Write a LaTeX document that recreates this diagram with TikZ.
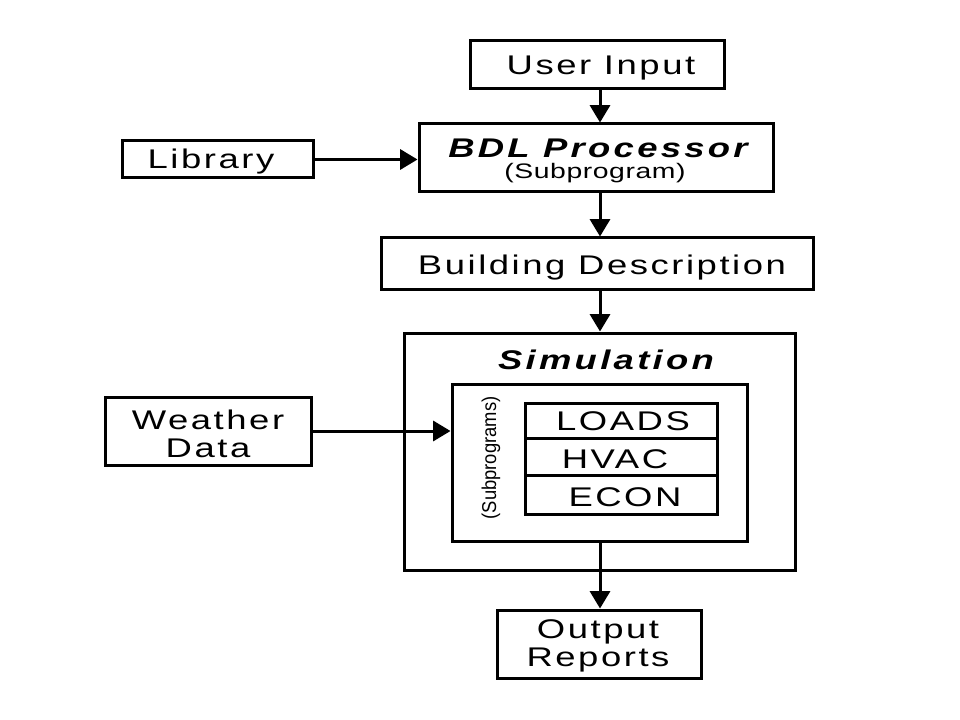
\documentclass[tikz,border=0pt]{standalone}
\usepackage{fontspec}
\setmainfont{Liberation Sans}
\newfontfamily\widefont[LetterSpace=7]{Liberation Sans}
\newfontfamily\widebold[LetterSpace=9]{Liberation Sans Bold Italic}
\newfontfamily\subfont[LetterSpace=2]{Liberation Sans}
\usetikzlibrary{arrows.meta,fit}
\newcommand\wx[1]{\scalebox{1.35}[1]{#1}}
\newcommand\wrot[1]{\scalebox{0.92}[1]{#1}}
\tikzset{
  box/.style={draw, line width=2.25pt, inner sep=0pt},
  lbl/.style={inner sep=0pt, align=center, font=\widefont\fontsize{20.25}{21}\selectfont},
  title/.style={inner sep=0pt, align=center, font=\widebold\fontsize{20.25}{22}\selectfont},
  sub/.style={inner sep=0pt, font=\subfont\fontsize{15.75}{18}\selectfont},
  rot/.style={inner sep=0pt, rotate=90, font=\fontsize{15}{18}\selectfont},
  arr/.style={line width=2.25pt, -{Triangle[length=13pt,width=15pt]}},
  ln/.style={line width=2.25pt}
}
\begin{document}
\begin{tikzpicture}[x=0.75pt,y=-0.75pt]
\useasboundingbox[fill=white] (0,0) rectangle (960,720);
% boxes
\node[box, fit={(470,41) (724,89)}] (ui) {};
\node[box, fit={(419,124) (773,192)}] (bdl) {};
\node[box, fit={(122,141) (313,178)}] (lib) {};
\node[box, fit={(381,238) (813,290)}] (bd) {};
\node[box, fit={(404,333) (795,570)}] (sim) {};
\node[box, fit={(452,384) (747,541)}] (inner) {};
\node[box, fit={(525,403) (717,438)}] (loads) {};
\node[box, fit={(525,438) (717,475)}] (hvac) {};
\node[box, fit={(525,475) (717,514)}] (econ) {};
\node[box, fit={(105,397) (311,465)}] (wd) {};
\node[box, fit={(497,610) (701,678)}] (out) {};
% texts
\node[lbl] (tui) at (601,68) {\wx{User Input}};
\node[title] (tbdl) at (598,148) {\wx{BDL Processor}};
\node[sub] (tsub) at (595,173) {\wx{(Subprogram)}};
\node[lbl] (tlib) at (211,162) {\wx{Library}};
\node[lbl] (tbd) at (602,268) {\wx{Building Description}};
\node[title] (tsim) at (606,360) {\wx{Simulation}};
\node[rot] (tsp) at (491,458) {\wrot{(Subprograms)}};
\node[lbl] (tloads) at (623,421) {\wx{LOADS}};
\node[lbl] (thvac) at (615,459) {\wx{HVAC}};
\node[lbl] (tecon) at (625,497) {\wx{ECON}};
\node[lbl] (twd) at (208,434) {\wx{Weather}\\\wx{Data}};
\node[lbl] (tout) at (598,646) {\wx{Output}\\\wx{Reports}};
% connectors
\draw[arr] (ui.south -| 600,0) -- (bdl.north -| 600,0);
\draw[arr] (lib.east) -- (bdl.west |- lib.east);
\draw[arr] (bdl.south -| 600,0) -- (bd.north -| 600,0);
\draw[arr] (bd.south -| 600,0) -- (sim.north -| 600,0);
\draw[arr] (wd.east |- 0,431) -- (inner.west |- 0,431);
\draw[arr] (inner.south -| 600,0) -- (out.north -| 600,0);
\end{tikzpicture}
\end{document}
